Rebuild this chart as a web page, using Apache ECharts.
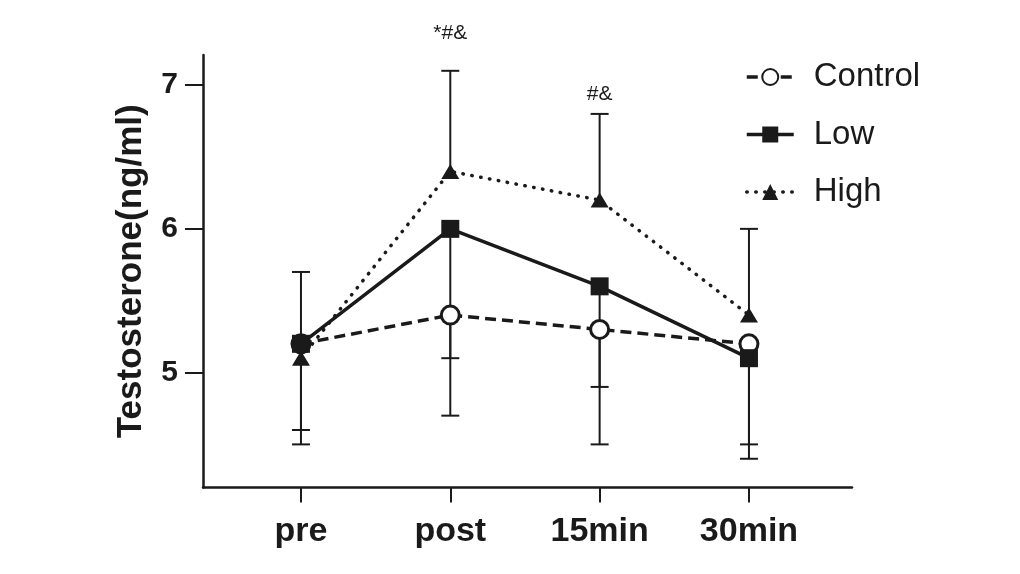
<!DOCTYPE html>
<html>
<head>
<meta charset="utf-8">
<script src="https://cdn.jsdelivr.net/npm/echarts@6/dist/echarts.min.js"></script>
<style>html,body{margin:0;padding:0;background:#fff;}#c{width:1020px;height:574px;}</style>
</head>
<body>
<div id="c"></div>
<script>
const categories = ['pre', 'post', '15min', '30min'];
const controlMean = [5.2, 5.4, 5.3, 5.2];
const lowMean = [5.2, 6.0, 5.6, 5.1];
const highMean = [5.1, 6.4, 6.2, 5.4];
const highSD = [0.6, 0.7, 0.6, 0.6];     // drawn upward
const lowSD = [0.6, 1.3, 1.1, 0.7];      // drawn downward
const controlSD = [0.7, 0.3, 0.4, 0.7];  // drawn downward
const annotations = ['', '*#&', '#&', ''];
const annotationY = [null, 7.36, 6.94, null];
const yTicks = [5, 6, 7];
const xTicks = [0, 1, 2, 3];

const FONT = "'Liberation Sans', Arial, Helvetica, sans-serif";
const INK = '#1a1a1a';

const pts = arr => arr.map((v, i) => [i, v]);
const errUp = (m, sd) => m.map((v, i) => [i, v, +(v + sd[i]).toFixed(3)]);
const errDown = (m, sd) => m.map((v, i) => [i, v, +(v - sd[i]).toFixed(3)]);

function errRender(params, api) {
  const x = api.value(0);
  const p1 = api.coord([x, api.value(1)]);
  const p2 = api.coord([x, api.value(2)]);
  const st = { stroke: INK, lineWidth: 2 };
  return {
    type: 'group',
    children: [
      { type: 'line', shape: { x1: p1[0], y1: p1[1], x2: p2[0], y2: p2[1] }, style: st },
      { type: 'line', shape: { x1: p2[0] - 9, y1: p2[1], x2: p2[0] + 9, y2: p2[1] }, style: st }
    ]
  };
}

const annData = annotations.map((t, i) => [i, annotationY[i], t]).filter(d => d[2]);

const chart = echarts.init(document.getElementById('c'), null, { renderer: 'canvas' });
chart.setOption({
  animation: false,
  backgroundColor: '#fff',
  grid: { left: 203, right: 168, top: 55, bottom: 86.5 },
  legend: {
    orient: 'vertical',
    left: 740,
    top: 52,
    itemWidth: 47,
    itemHeight: 20,
    itemGap: 17.5,
    data: ['Control', 'Low', 'High'],
    lineStyle: { width: 3.5 },
    textStyle: { fontFamily: FONT, fontSize: 33, color: INK, lineHeight: 40, padding: [0, 0, 0, 15] }
  },
  xAxis: {
    type: 'value',
    min: -0.656,
    max: 3.69,
    splitLine: { show: false },
    axisLine: { show: true, onZero: false, lineStyle: { color: INK, width: 2.5 } },
    axisTick: { show: true, length: 15, customValues: xTicks, lineStyle: { color: INK, width: 2 } },
    axisLabel: {
      customValues: xTicks,
      formatter: v => categories[Math.round(v)] || '',
      margin: 27,
      fontFamily: FONT, fontSize: 34, fontWeight: 'bold', color: INK
    }
  },
  yAxis: {
    type: 'value',
    min: 4.2,
    max: 7.21,
    name: 'Testosterone(ng/ml)',
    nameLocation: 'middle',
    nameGap: 54,
    nameTextStyle: { fontFamily: FONT, fontSize: 35, fontWeight: 'bold', color: INK },
    splitLine: { show: false },
    axisLine: { show: true, onZero: false, lineStyle: { color: INK, width: 2.5 } },
    axisTick: { show: true, length: 18, customValues: yTicks, lineStyle: { color: INK, width: 2 } },
    axisLabel: {
      customValues: yTicks,
      margin: 25,
      fontFamily: FONT, fontSize: 30, fontWeight: 'bold', color: INK
    }
  },
  series: [
    { type: 'custom', name: 'errHigh', z: 1, renderItem: errRender, encode: { x: 0, y: [1, 2] }, data: errUp(highMean, highSD), silent: true },
    { type: 'custom', name: 'errLow', z: 1, renderItem: errRender, encode: { x: 0, y: [1, 2] }, data: errDown(lowMean, lowSD), silent: true },
    { type: 'custom', name: 'errControl', z: 1, renderItem: errRender, encode: { x: 0, y: [1, 2] }, data: errDown(controlMean, controlSD), silent: true },
    {
      type: 'line', name: 'Control', z: 3, data: pts(controlMean),
      symbol: 'circle', symbolSize: 18,
      itemStyle: { color: '#fff', borderColor: INK, borderWidth: 3 },
      lineStyle: { color: INK, width: 3.5, type: [11, 6] }
    },
    {
      type: 'line', name: 'High', z: 4, data: pts(highMean),
      symbol: 'triangle', symbolSize: [18, 15],
      itemStyle: { color: INK },
      lineStyle: { color: INK, width: 3.5, type: [0.5, 8.5], cap: 'round' }
    },
    {
      type: 'line', name: 'Low', z: 5, data: pts(lowMean),
      symbol: 'rect', symbolSize: 18,
      itemStyle: { color: INK },
      lineStyle: { color: INK, width: 3.5, type: 'solid' }
    },
    {
      type: 'custom', name: 'annot', z: 6, silent: true,
      encode: { x: 0, y: 1 },
      data: annData,
      renderItem: (params, api) => {
        const p = api.coord([api.value(0), api.value(1)]);
        return {
          type: 'text',
          style: {
            x: p[0], y: p[1], text: annData[params.dataIndex][2],
            align: 'center', verticalAlign: 'middle',
            font: '21px ' + FONT, fill: INK
          }
        };
      }
    }
  ]
});
</script>
</body>
</html>
